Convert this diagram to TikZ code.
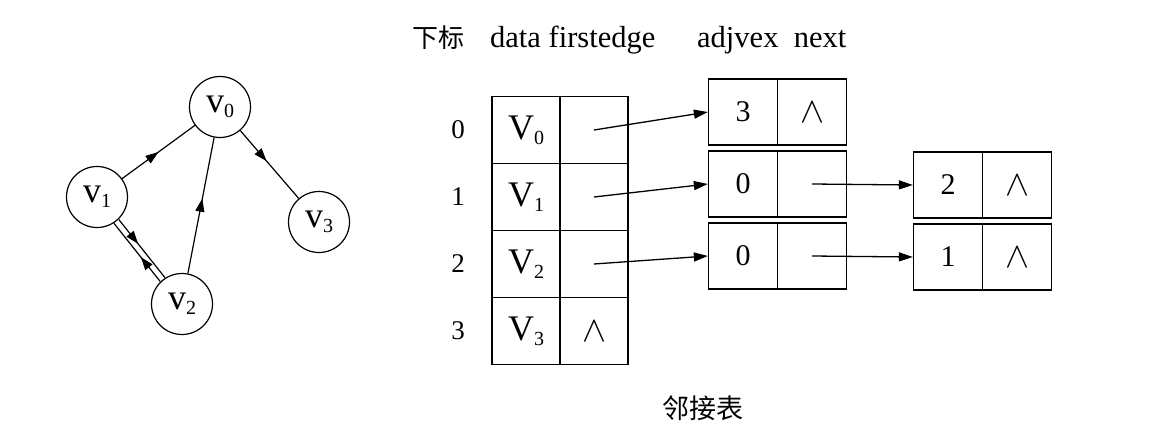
\documentclass[tikz,border=0pt]{standalone}
\usepackage{fontspec}
\setmainfont{Liberation Serif}
\newfontfamily\cjk{Noto Sans CJK SC}
\usetikzlibrary{arrows.meta,decorations.markings}
\newcommand\mysub[1]{\raisebox{-0.13em}{\fontsize{20}{20}\selectfont #1}}
\newcommand\nil{{\fontsize{10}{12}\selectfont\scalebox{3.6}{$\wedge$}}}
\begin{document}
\begin{tikzpicture}[x=1pt,y=-1pt,
  vert/.style={circle,draw,line width=1.2pt,minimum size=61pt,inner sep=0pt,font=\fontsize{36}{36}\selectfont},
  cella/.style={draw,line width=1.3pt,minimum width=68pt,minimum height=67pt,inner sep=0pt,font=\fontsize{36}{36}\selectfont},
  cellb/.style={draw,line width=1.3pt,minimum width=69pt,minimum height=66pt,inner sep=0pt,font=\fontsize{30}{30}\selectfont},
  hdr/.style={font=\fontsize{30.5}{30.5}\selectfont,inner sep=0pt},
  idx/.style={font=\fontsize{27}{27}\selectfont,inner sep=0pt},
  arr/.style={line width=1.3pt,-{Triangle[length=14pt,width=9pt]}},
  medge/.style={line width=1.2pt,postaction={decorate},decoration={markings,mark=at position #1 with {\arrow{Triangle[length=13pt,width=9pt]}}}},
  medge/.default=0.5]
\useasboundingbox (0,0) rectangle (1176,444);
% graph
\node[vert] (v0) at (220,107) {v\mysub{0}};
\node[vert] (v1) at (97,197) {v\mysub{1}};
\node[vert] (v2) at (182,304) {v\mysub{2}};
\node[vert] (v3) at (319,222) {v\mysub{3}};
\draw[medge=0.5] (v1) -- (v0);
\draw[medge=0.45] (v0) -- (v3);
\draw[medge=0.55] (v2) -- (v0);
\draw[medge=0.42, transform canvas={shift={(2.4pt,1.9pt)}}] (v1) -- (v2);
\draw[medge=0.42, transform canvas={shift={(-2.4pt,-1.9pt)}}] (v2) -- (v1);
% headers
\node[font=\cjk\fontsize{26}{26}\selectfont,inner sep=0pt] (h0) at (438,38) {下标};
\node[hdr,anchor=base west] (h1) at (490,48) {data firstedge};
\node[hdr,anchor=base west] (h2) at (697,48) {adjvex\ \ next};
% indices
\node[idx] (i0) at (458,130) {0};
\node[idx] (i1) at (458,197) {1};
\node[idx] (i2) at (458,264) {2};
\node[idx] (i3) at (458,331) {3};
% vertex table
\node[cella] (d0) at (526,130) {V\mysub{0}};
\node[cella] (f0) at (594,130) {};
\node[cella] (d1) at (526,197) {V\mysub{1}};
\node[cella] (f1) at (594,197) {};
\node[cella] (d2) at (526,264) {V\mysub{2}};
\node[cella] (f2) at (594,264) {};
\node[cella] (d3) at (526,331) {V\mysub{3}};
\node[cella] (f3) at (594,331) {\nil};
% edge nodes
\node[cellb] (a0) at (743,112) {3};
\node[cellb] (n0) at (812,112) {\nil};
\node[cellb] (a1) at (743,184) {0};
\node[cellb] (n1) at (812,184) {};
\node[cellb] (a2) at (743,256) {0};
\node[cellb] (n2) at (812,256) {};
\node[cellb] (b1) at (948,185) {2};
\node[cellb] (m1) at (1017,185) {\nil};
\node[cellb] (b2) at (948,257) {1};
\node[cellb] (m2) at (1017,257) {\nil};
% arrows
\draw[arr] (f0.center) -- (a0.west);
\draw[arr] (f1.center) -- (a1.west);
\draw[arr] (f2.center) -- (a2.west);
\draw[arr] (n1.center) -- (b1.west);
\draw[arr] (n2.center) -- (b2.west);
% caption
\node[font=\cjk\fontsize{27}{27}\selectfont,inner sep=0pt] (cap) at (703,408) {邻接表};
\end{tikzpicture}
\end{document}
